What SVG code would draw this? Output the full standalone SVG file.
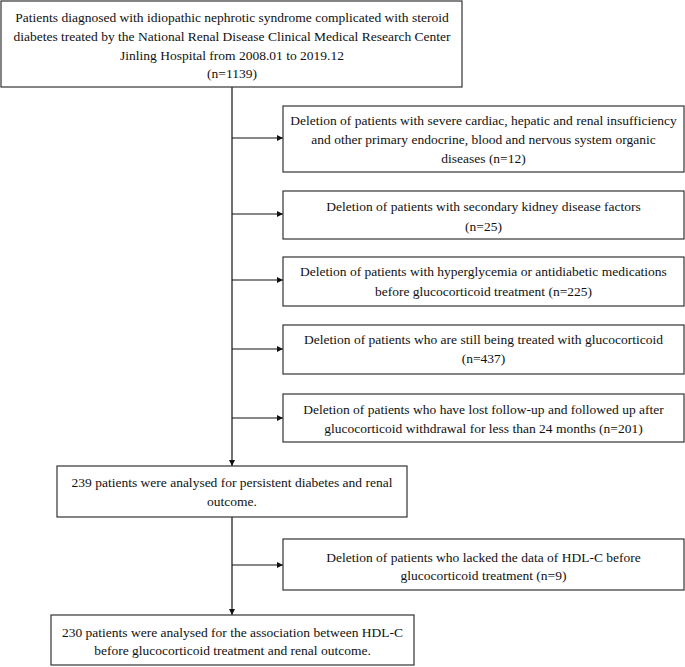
<svg xmlns="http://www.w3.org/2000/svg" width="685" height="667" viewBox="0 0 685 667">
<style>
.box{fill:#fff;stroke:#333;stroke-width:1.2}
.t{font-family:"Liberation Serif","Times New Roman",serif;font-size:13.5px;fill:#111;text-anchor:middle}
.c{stroke:#111;stroke-width:1.2;fill:none}
</style>
<defs>
<marker id="ah" viewBox="0 0 10 10" refX="10" refY="5" markerWidth="6" markerHeight="6" markerUnits="userSpaceOnUse" orient="auto">
<path d="M0,0 L10,5 L0,10 z" fill="#111"/>
</marker>
</defs>
<rect width="685" height="667" fill="#fff"/>
<g id="connectors">
<path class="c" d="M232,87 V466" marker-end="url(#ah)"/>
<path class="c" d="M232,517 V615" marker-end="url(#ah)"/>
<path class="c" d="M232,138 H283" marker-end="url(#ah)"/>
<path class="c" d="M232,214 H283" marker-end="url(#ah)"/>
<path class="c" d="M232,280 H283" marker-end="url(#ah)"/>
<path class="c" d="M232,349 H283" marker-end="url(#ah)"/>
<path class="c" d="M232,418 H283" marker-end="url(#ah)"/>
<path class="c" d="M232,565 H283" marker-end="url(#ah)"/>
</g>
<g id="n0">
<rect class="box" x="1" y="1" width="461" height="86"/>
<text class="t" x="232" y="22">Patients diagnosed with idiopathic nephrotic syndrome complicated with steroid</text>
<text class="t" x="232" y="41">diabetes treated by the National Renal Disease Clinical Medical Research Center</text>
<text class="t" x="232" y="60">Jinling Hospital from 2008.01 to 2019.12</text>
<text class="t" x="232" y="78">(n=1139)</text>
</g>
<g id="n1">
<rect class="box" x="283" y="106" width="401" height="66"/>
<text class="t" x="483.5" y="125">Deletion of patients with severe cardiac, hepatic and renal insufficiency</text>
<text class="t" x="483.5" y="144">and other primary endocrine, blood and nervous system organic</text>
<text class="t" x="483.5" y="163">diseases (n=12)</text>
</g>
<g id="n2">
<rect class="box" x="283" y="191" width="401" height="48"/>
<text class="t" x="483.5" y="211">Deletion of patients with secondary kidney disease factors</text>
<text class="t" x="483.5" y="231">(n=25)</text>
</g>
<g id="n3">
<rect class="box" x="283" y="257" width="401" height="49"/>
<text class="t" x="483.5" y="276">Deletion of patients with hyperglycemia or antidiabetic medications</text>
<text class="t" x="483.5" y="296">before glucocorticoid treatment (n=225)</text>
</g>
<g id="n4">
<rect class="box" x="283" y="325" width="401" height="49"/>
<text class="t" x="483.5" y="344">Deletion of patients who are still being treated with glucocorticoid</text>
<text class="t" x="483.5" y="363">(n=437)</text>
</g>
<g id="n5">
<rect class="box" x="283" y="394" width="401" height="48"/>
<text class="t" x="483.5" y="414">Deletion of patients who have lost follow-up and followed up after</text>
<text class="t" x="483.5" y="433">glucocorticoid withdrawal for less than 24 months (n=201)</text>
</g>
<g id="n6">
<rect class="box" x="57" y="466" width="350" height="51"/>
<text class="t" x="232" y="487">239 patients were analysed for persistent diabetes and renal</text>
<text class="t" x="232" y="506">outcome.</text>
</g>
<g id="n7">
<rect class="box" x="283" y="539" width="401" height="51"/>
<text class="t" x="483.5" y="562">Deletion of patients who lacked the data of HDL-C before</text>
<text class="t" x="483.5" y="580">glucocorticoid treatment (n=9)</text>
</g>
<g id="n8">
<rect class="box" x="51" y="615" width="363" height="50"/>
<text class="t" x="232.5" y="637">230 patients were analysed for the association between HDL-C</text>
<text class="t" x="232.5" y="655">before glucocorticoid treatment and renal outcome.</text>
</g>
</svg>
